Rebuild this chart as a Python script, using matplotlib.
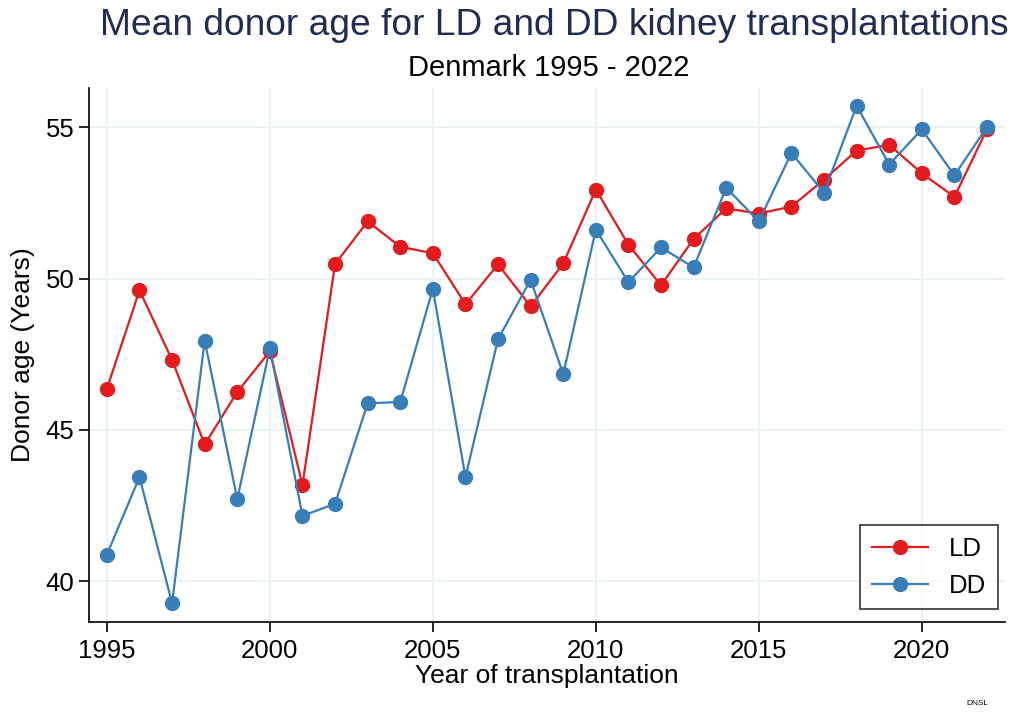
import matplotlib.pyplot as plt
import numpy as np

plt.rcParams['font.family'] = ['Liberation Sans', 'DejaVu Sans']

years = list(range(1995, 2023))
ld_age = [46.36, 49.61, 47.31, 44.52, 46.25, 47.60, 43.18, 50.48, 51.89, 51.05,
          50.84, 49.15, 50.47, 49.08, 50.50, 52.94, 51.12, 49.78, 51.31, 52.32,
          52.15, 52.38, 53.27, 54.23, 54.42, 53.48, 52.70, 54.94]
dd_age = [40.88, 43.44, 39.27, 47.95, 42.71, 47.70, 42.16, 42.56, 45.88, 45.92,
          49.66, 43.44, 48.00, 49.96, 46.84, 51.62, 49.88, 51.03, 50.37, 53.00,
          51.89, 54.15, 52.84, 55.71, 53.77, 54.93, 53.41, 55.01]
x_ticks = [1995, 2000, 2005, 2010, 2015, 2020]
y_ticks = [40, 45, 50, 55]

red = '#e41a1c'
blue = '#377eb8'

fig = plt.figure(figsize=(10.11, 7.15), dpi=100)
ax = fig.add_axes([0.088, 0.130, 0.906, 0.747])

ax.plot(years, ld_age, color=red, marker='o', markersize=10, linewidth=1.6, label='LD')
ax.plot(years, dd_age, color=blue, marker='o', markersize=10, linewidth=1.6, label='DD')

ax.set_xlim(1994.45, 2022.55)
ax.set_ylim(38.65, 56.3)
ax.set_xticks(x_ticks)
ax.set_yticks(y_ticks)
ax.grid(True, color='#eaf2f3', linewidth=1.5)
ax.set_axisbelow(True)
for s in ['top', 'right']:
    ax.spines[s].set_visible(False)
ax.spines['left'].set_linewidth(1.2)
ax.spines['bottom'].set_linewidth(1.2)
ax.tick_params(axis='both', labelsize=18.5, length=7, width=1.2, direction='out')
ax.tick_params(axis='x', pad=5)

ax.set_xlabel('Year of transplantation', fontsize=19, labelpad=1)
ax.set_ylabel('Donor age (Years)', fontsize=19, labelpad=8)

leg = ax.legend(loc='lower right', bbox_to_anchor=(1.006, 0.0), fontsize=18.5,
                frameon=True, fancybox=False, edgecolor='black',
                borderpad=0.45, handlelength=2.2)
leg.get_frame().set_linewidth(1.2)

fig.text(0.548, 0.965, 'Mean donor age for LD and DD kidney transplantations',
         ha='center', va='center', fontsize=26.7, color='#1f2d52')
fig.text(0.543, 0.905, 'Denmark 1995 - 2022', ha='center', va='center', fontsize=21)
fig.text(0.978, 0.011, 'DNSL', ha='right', va='bottom', fontsize=6)

fig.savefig('out.png', dpi=100)
